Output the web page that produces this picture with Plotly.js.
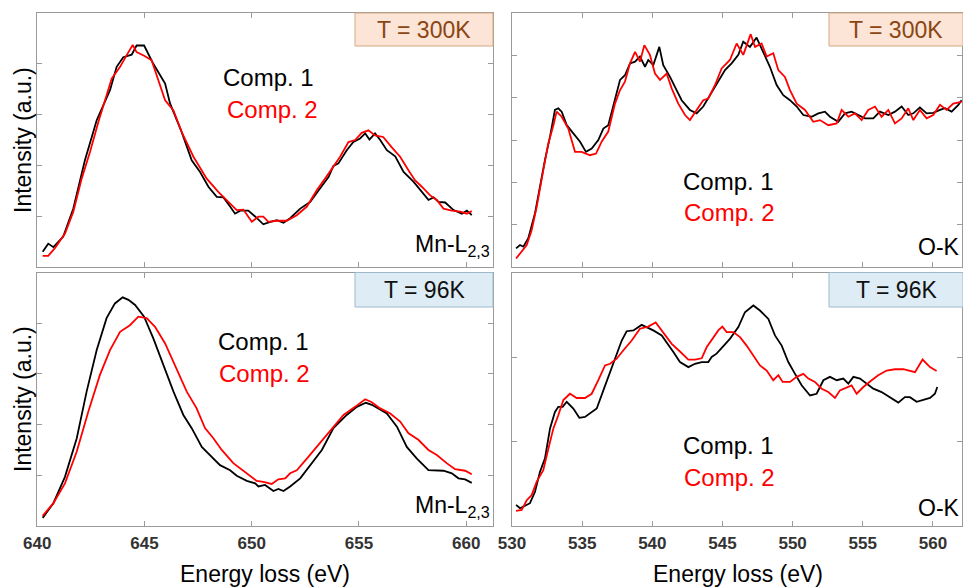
<!DOCTYPE html>
<html><head><meta charset="utf-8">
<script src="https://cdn.plot.ly/plotly-3.0.1.min.js"></script>
<style>html,body{margin:0;padding:0;background:#fff}#chart{width:963px;height:587px}</style>
</head><body><div id="chart"></div>
<script>
// ---------- DATA ----------
// Mn-L2,3 edge, T = 300K
const mn300_c1_x = [640.25,640.51,640.75,641.21,641.68,642.22,642.77,643.39,643.70,644.01,644.40,644.63,644.98,645.41,645.96,646.19,646.73,647.20,647.59,647.98,648.37,648.68,648.99,649.22,649.46,649.84,650.17,650.54,650.86,651.17,651.48,651.79,652.26,652.72,653.19,653.58,653.81,654.04,654.43,654.74,655.05,655.29,655.49,655.75,655.99,656.30,656.69,657.08,657.54,657.93,658.24,658.48,658.71,659.02,659.41,659.80,660.03,660.26];
const mn300_c1_y = [0.30,0.46,0.39,0.60,1.15,2.10,2.89,3.48,3.94,4.13,4.18,4.36,4.36,4.00,3.61,3.22,2.66,2.10,1.87,1.58,1.38,1.37,1.19,1.05,1.11,1.11,0.99,0.84,0.89,0.92,0.87,0.96,1.15,1.28,1.55,1.77,1.99,2.04,2.30,2.46,2.53,2.63,2.51,2.63,2.50,2.30,2.18,1.87,1.68,1.48,1.32,1.37,1.28,1.27,1.12,1.05,1.11,1.02];
const mn300_c2_x = [640.25,640.51,640.82,641.29,641.68,642.07,642.46,642.85,643.47,643.86,644.25,644.45,644.63,644.98,645.33,645.65,645.96,646.35,646.73,647.28,647.90,648.44,648.99,649.30,649.61,650.00,650.31,650.54,650.78,651.17,651.63,652.10,652.57,653.03,653.42,653.81,654.12,654.51,654.82,655.13,655.44,655.75,656.13,656.52,656.92,657.30,657.61,657.93,658.32,658.63,658.94,659.33,659.72,660.03,660.26];
const mn300_c2_y = [0.22,0.22,0.37,0.66,1.09,1.74,2.27,2.86,3.71,3.94,4.23,4.37,4.23,4.16,4.07,3.67,3.28,3.08,2.66,2.17,1.74,1.48,1.25,1.12,1.13,0.89,0.99,0.99,0.89,0.91,0.91,1.02,1.19,1.51,1.74,1.97,2.17,2.46,2.50,2.64,2.69,2.59,2.56,2.36,2.17,1.91,1.71,1.58,1.41,1.32,1.15,1.11,1.09,1.05,1.10];

// Mn-L2,3 edge, T = 96K
const mn96_c1_x = [640.25,640.75,641.29,641.84,642.30,642.77,643.23,643.62,643.98,644.25,644.56,644.98,645.41,645.88,646.35,646.81,647.20,647.67,648.06,648.52,648.99,649.30,649.77,650.16,650.31,650.62,651.01,651.24,651.48,651.79,652.26,652.72,653.27,653.81,654.43,654.90,655.32,655.60,655.91,656.30,656.77,657.23,657.70,658.24,658.94,659.33,659.64,659.95,660.26];
const mn96_c1_y = [0.16,0.45,0.97,1.73,2.65,3.47,4.10,4.39,4.51,4.46,4.36,4.13,3.70,3.18,2.65,2.19,1.93,1.56,1.40,1.20,1.10,0.99,0.89,0.84,0.78,0.81,0.69,0.73,0.69,0.78,0.94,1.20,1.50,1.93,2.19,2.35,2.43,2.39,2.31,2.22,1.96,1.56,1.33,1.10,1.09,1.04,0.94,0.92,0.85];
const mn96_c2_x = [640.25,640.75,641.29,641.84,642.38,642.92,643.39,643.86,644.32,644.71,645.10,645.49,645.96,646.42,646.97,647.43,647.82,648.21,648.60,649.14,649.69,650.23,650.54,650.93,651.24,651.56,651.79,652.10,652.57,653.11,653.73,654.28,654.82,655.29,655.60,655.99,656.46,656.92,657.31,657.77,658.24,658.63,659.09,659.48,659.95,660.26];
const mn96_c2_y = [0.20,0.45,0.84,1.47,2.26,2.98,3.47,3.83,3.96,4.13,4.10,3.93,3.60,3.18,2.65,2.32,1.93,1.73,1.50,1.24,1.07,0.89,0.87,0.83,0.92,0.94,1.04,1.10,1.33,1.60,1.93,2.19,2.35,2.50,2.44,2.32,2.22,2.06,1.83,1.70,1.50,1.40,1.24,1.12,1.09,1.02];

// O-K edge, T = 300K
const ok300_c1_x = [530.29,530.57,530.81,531.16,531.64,531.99,532.35,532.71,533.06,533.30,533.54,533.90,534.37,534.85,535.27,535.68,536.15,536.51,536.86,537.34,537.70,538.05,538.41,538.77,539.12,539.48,539.71,540.07,540.50,540.78,541.26,541.73,542.09,542.68,543.16,543.63,544.11,544.58,545.18,545.65,546.13,546.48,546.96,547.43,547.91,548.38,548.86,549.33,549.81,550.29,550.76,551.35,551.83,552.30,552.66,553.25,553.73,554.20,554.68,555.15,555.75,556.22,556.82,557.29,557.77,558.24,558.60,559.07,559.55,560.02,560.50,560.86,561.33,561.81,562.04];
const ok300_c1_y = [0.44,0.52,0.48,0.68,1.27,1.90,2.53,3.08,3.71,3.75,3.67,3.35,3.16,2.96,2.72,2.80,3.00,3.27,3.35,3.94,4.42,4.53,4.81,4.85,4.97,4.73,4.89,4.77,5.20,4.77,4.49,4.18,3.94,3.71,3.63,3.79,4.06,4.34,4.65,4.81,5.01,5.32,5.20,5.42,5.08,4.73,4.30,4.06,3.94,3.79,3.59,3.55,3.63,3.67,3.55,3.43,3.63,3.67,3.59,3.51,3.51,3.67,3.59,3.67,3.79,3.59,3.63,3.77,3.63,3.64,3.71,3.75,3.67,3.83,3.94];
const ok300_c2_x = [530.29,530.69,531.05,531.40,531.76,532.23,532.59,532.95,533.18,533.54,534.01,534.49,534.96,535.56,535.99,536.39,536.86,537.34,537.70,538.05,538.41,538.77,539.12,539.43,539.83,540.19,540.55,541.02,541.38,541.85,542.33,542.68,543.16,543.63,543.99,544.47,544.94,545.53,546.01,546.48,547.01,547.32,547.79,548.15,548.62,548.98,549.45,549.81,550.29,550.88,551.47,551.95,552.54,553.14,553.49,553.97,554.44,554.92,555.39,555.87,556.34,556.82,557.29,557.77,558.24,558.60,559.07,559.55,560.02,560.50,560.97,561.45,562.04];
const ok300_c2_y = [0.20,0.36,0.52,0.87,1.42,2.29,2.92,3.35,3.67,3.55,3.27,2.72,2.72,2.64,2.68,2.96,3.20,3.86,4.18,4.38,4.81,5.08,4.85,5.24,5.01,4.57,4.42,4.57,4.22,3.86,3.59,3.47,3.71,3.94,3.98,4.30,4.69,4.89,5.28,5.01,5.50,5.20,5.28,4.97,5.05,4.65,4.49,4.18,3.86,3.71,3.43,3.47,3.35,3.39,3.71,3.55,3.63,3.47,3.71,3.79,3.55,3.71,3.39,3.51,3.75,3.47,3.71,3.51,3.59,3.83,3.71,3.86,3.90];

// O-K edge, T = 96K
const ok96_c1_x = [530.29,530.57,530.93,531.28,531.64,531.99,532.35,532.71,533.06,533.30,533.61,533.90,534.37,534.80,535.20,535.68,536.04,536.51,536.99,537.46,537.82,538.17,538.65,539.24,539.60,540.07,540.67,541.02,541.50,541.97,542.57,543.04,543.52,543.99,544.23,544.58,545.06,545.53,546.13,546.60,547.20,547.67,548.27,548.74,549.22,549.69,550.17,550.64,551.24,551.71,552.19,552.66,553.14,553.61,553.97,554.33,554.80,555.28,555.75,556.34,556.94,557.53,558.00,558.36,558.84,559.31,559.79,560.14,560.31];
const ok96_c1_y = [0.50,0.42,0.48,0.54,0.81,1.28,1.60,2.31,2.70,2.82,2.82,2.94,2.78,2.56,2.58,2.70,2.78,3.21,3.64,4.04,4.39,4.61,4.63,4.76,4.71,4.63,4.51,4.35,4.12,3.88,3.76,3.84,3.88,3.88,4.00,4.08,4.27,4.43,4.71,5.06,5.22,5.10,4.90,4.51,4.27,3.88,3.60,3.33,3.09,3.13,3.45,3.53,3.45,3.49,3.37,3.53,3.49,3.37,3.25,3.17,3.05,2.92,3.05,3.05,2.94,2.98,3.03,3.13,3.29];
const ok96_c2_x = [530.29,530.69,531.05,531.40,531.76,532.23,532.59,532.95,533.30,533.66,534.13,534.61,535.20,535.68,536.15,536.63,536.99,537.46,537.94,538.53,539.12,539.71,540.24,540.78,541.38,541.97,542.57,543.04,543.52,543.87,544.35,544.70,544.99,545.30,545.77,546.25,546.72,547.20,547.67,548.15,548.62,548.98,549.29,549.81,550.29,550.76,551.12,551.59,552.07,552.54,553.02,553.37,553.85,554.20,554.56,555.04,555.63,556.10,556.70,557.29,557.89,558.36,558.72,559.26,559.79,560.26];
const ok96_c2_y = [0.36,0.38,0.61,0.73,1.05,1.32,1.83,2.31,2.62,2.98,3.13,3.03,3.03,3.13,3.45,3.80,3.84,3.96,4.16,4.39,4.67,4.72,4.82,4.59,4.31,4.13,3.94,3.94,3.97,4.23,4.47,4.63,4.72,4.59,4.59,4.47,4.27,4.04,3.80,3.68,3.45,3.57,3.41,3.41,3.53,3.60,3.49,3.41,3.25,3.17,3.03,3.21,3.29,3.33,3.13,3.29,3.45,3.57,3.68,3.71,3.71,3.68,3.64,3.94,3.76,3.67];

// tick labels
const mnTicks = [640, 645, 650, 655, 660];
const okTicks = [530, 535, 540, 545, 550, 555, 560];
const seriesNames = ['Comp. 1', 'Comp. 2'];
const tempLabels = ['T = 300K', 'T = 96K'];
const edgeLabels = ['Mn-L<sub>2,3</sub>', 'O-K'];

// ---------- LAYOUT ----------
const W = 963, H = 587;
const px = x => x / W, py = y => 1 - y / H;
const FONT = 'Liberation Sans, Arial, Helvetica, sans-serif';
const BLACK = '#000000', RED = '#ff0000';
const LW = 1.8;

function tr(x, y, color, xa, ya, name) {
  return {x: x, y: y, type: 'scatter', mode: 'lines', name: name,
          line: {color: color, width: LW}, xaxis: xa, yaxis: ya, showlegend: false, hoverinfo: 'skip'};
}
const data = [
  tr(mn300_c1_x, mn300_c1_y, BLACK, 'x', 'y', seriesNames[0]),
  tr(mn300_c2_x, mn300_c2_y, RED, 'x', 'y', seriesNames[1]),
  tr(ok300_c1_x, ok300_c1_y, BLACK, 'x2', 'y2', seriesNames[0]),
  tr(ok300_c2_x, ok300_c2_y, RED, 'x2', 'y2', seriesNames[1]),
  tr(mn96_c1_x, mn96_c1_y, BLACK, 'x3', 'y3', seriesNames[0]),
  tr(mn96_c2_x, mn96_c2_y, RED, 'x3', 'y3', seriesNames[1]),
  tr(ok96_c1_x, ok96_c1_y, BLACK, 'x4', 'y4', seriesNames[0]),
  tr(ok96_c2_x, ok96_c2_y, RED, 'x4', 'y4', seriesNames[1])
];

const FRAME = '#9a9a9a';
function xax(dom, range, ticks, anchor, labels) {
  return {domain: dom, range: range, anchor: anchor, tickvals: ticks, ticktext: ticks.map(String),
    ticks: 'inside', ticklen: 5, tickcolor: FRAME, showline: true, linecolor: FRAME, linewidth: 1,
    mirror: 'ticks', showgrid: false, zeroline: false, showticklabels: labels,
    tickfont: {family: FONT, size: 17, color: '#333333', weight: 'bold'}, ticklabelstandoff: 2, fixedrange: true};
}
function yax(dom, range, ticks, anchor) {
  return {domain: dom, range: range, anchor: anchor, tickvals: ticks,
    ticks: 'inside', ticklen: 5, tickcolor: FRAME, showline: true, linecolor: FRAME, linewidth: 1,
    mirror: 'ticks', showgrid: false, zeroline: false, showticklabels: false, fixedrange: true};
}
const xL = [px(37.3), px(493)], xR = [px(512), px(962)];
const yT = [py(267), py(13)], yB = [py(526), py(272.5)];

const layout = {
  width: W, height: H, margin: {l: 0, r: 0, t: 0, b: 0},
  paper_bgcolor: '#ffffff', plot_bgcolor: '#ffffff', showlegend: false,
  font: {family: FONT},
  xaxis: xax(xL, [640, 661.25], mnTicks, 'y', false),
  yaxis: yax(yT, [0, 5], [1, 2, 3, 4], 'x'),
  xaxis2: xax(xR, [530, 562.07], okTicks, 'y2', false),
  yaxis2: yax(yT, [0, 6], [1, 2, 3, 4, 5], 'x2'),
  xaxis3: xax(xL, [640, 661.25], mnTicks, 'y3', true),
  yaxis3: yax(yB, [0, 5], [1, 2, 3, 4], 'x3'),
  xaxis4: xax(xR, [530, 562.07], okTicks, 'y4', true),
  yaxis4: yax(yB, [0, 6], [2, 4], 'x4'),
  shapes: [], annotations: []
};

function box(x0, y0, x1, y1, fill, border) {
  layout.shapes.push({type: 'rect', xref: 'paper', yref: 'paper', x0: px(x0), x1: px(x1), y0: py(y1), y1: py(y0),
    fillcolor: fill, line: {color: border, width: 1}, layer: 'above'});
}
function ann(text, x, y, size, color, xanchor, yanchor, angle) {
  layout.annotations.push({text: text, x: px(x), y: py(y), xref: 'paper', yref: 'paper', showarrow: false,
    xanchor: xanchor || 'center', yanchor: yanchor || 'middle', textangle: angle || 0,
    font: {family: FONT, size: size, color: color}});
}
// temperature boxes
box(355, 13, 493, 46, '#fce4d6', '#d4a982');
box(829, 13, 963, 46, '#fce4d6', '#d4a982');
box(355, 272.5, 493, 307, '#deedf5', '#9fb8cb');
box(829, 272.5, 963, 307, '#deedf5', '#9fb8cb');
ann(tempLabels[0], 424, 30, 23, '#8b4513');
ann(tempLabels[0], 896, 30, 23, '#8b4513');
ann(tempLabels[1], 424, 290, 23, '#111111');
ann(tempLabels[1], 896, 290, 23, '#111111');
// series labels
ann(seriesNames[0], 268, 77, 24, BLACK);
ann(seriesNames[1], 272, 109, 24, RED);
ann(seriesNames[0], 728.5, 181, 24, BLACK);
ann(seriesNames[1], 729.3, 213, 24, RED);
ann(seriesNames[0], 263.5, 341, 24, BLACK);
ann(seriesNames[1], 264, 373, 24, RED);
ann(seriesNames[0], 728.5, 445, 24, BLACK);
ann(seriesNames[1], 729.3, 477, 24, RED);
// edge labels
ann(edgeLabels[0], 492, 262, 23, BLACK, 'right', 'bottom');
ann(edgeLabels[0], 492, 523, 23, BLACK, 'right', 'bottom');
ann(edgeLabels[1], 962, 262, 23, BLACK, 'right', 'bottom');
ann(edgeLabels[1], 962, 523, 23, BLACK, 'right', 'bottom');
// axis titles
ann('Intensity (a.u.)', 23, 140, 23, BLACK, 'center', 'middle', -90);
ann('Intensity (a.u.)', 23, 399, 23, BLACK, 'center', 'middle', -90);
ann('Energy loss (eV)', 265, 574, 23, BLACK);
ann('Energy loss (eV)', 738, 574, 23, BLACK);

Plotly.newPlot('chart', data, layout, {displayModeBar: false, staticPlot: true});
</script>
</body></html>
